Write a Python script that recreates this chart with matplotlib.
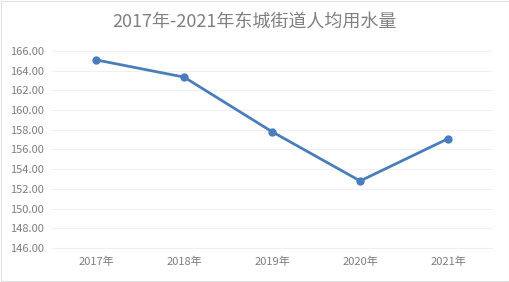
import matplotlib.pyplot as plt

plt.rcParams['font.family'] = ['Noto Sans CJK SC', 'DejaVu Sans']

years = ['2017年', '2018年', '2019年', '2020年', '2021年']
water = [165.1, 163.35, 157.8, 152.8, 157.1]
yticks = [146, 148, 150, 152, 154, 156, 158, 160, 162, 164, 166]

fig = plt.figure(figsize=(5.1, 2.82), dpi=100)
ax = fig.add_axes([0.102, 0.121, 0.863, 0.698])

x = range(len(years))
ax.plot(x, water, color='#4a7ebb', lw=2, marker='o', ms=5)

ax.set_xlim(-0.5, len(years) - 0.5)
ax.set_ylim(146, 166)
ax.set_yticks(yticks)
ax.set_yticklabels(['%.2f' % v for v in yticks])
ax.set_xticks(list(x))
ax.set_xticklabels(years)
ax.tick_params(length=0, labelsize=8, colors='#7f7f7f', pad=6)
ax.grid(axis='y', color='#f0f0f0', lw=0.8)
for s in ['top', 'right', 'left']:
    ax.spines[s].set_visible(False)
ax.spines['bottom'].set_color('#f0f0f0')
ax.set_axisbelow(True)

fig.text(0.5, 0.925, '2017年-2021年东城街道人均用水量', ha='center', va='center',
         fontsize=13, color='#808080')

fig.patches.append(plt.Rectangle((0.001, 0.002), 0.997, 0.995, transform=fig.transFigure,
                                 fill=False, ec='#e0e0e0', lw=0.8))

fig.savefig('out.png', dpi=100)
